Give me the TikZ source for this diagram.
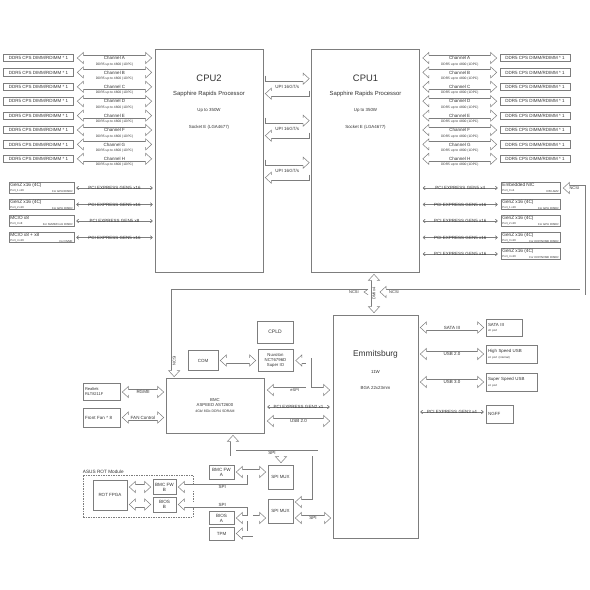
\documentclass[tikz,border=0pt]{standalone}
\usepackage{fontspec}
\setmainfont{Liberation Sans}
\usetikzlibrary{positioning, arrows.meta, calc}
\definecolor{ln}{RGB}{125,125,125}
\definecolor{tx}{RGB}{50,50,50}
\newcommand{\hbus}[4]{%
  \draw[bus, shorten <=6pt, shorten >=6pt] #2 -- node[buslbl] (#1) {#4} #3;
  \pic at #2 {hL}; \pic at #3 {hR};}
\newcommand{\tbus}[4]{%
  \draw[thinbus, yshift=-3.7pt] #2 -- #3;
  \draw[thinbus, yshift=3.7pt] #2 -- #3;
  \path #2 -- node[buslbl] (#1) {#4} #3;}
\newcommand{\pbox}[6]{%
  \node[pcie, minimum width=#2] (#1) at #3 {};
  \node[ttl, anchor=north west] (#1t) at ($(#1.north west)+(1.5,0.8)$) {#4};
  \node[sub, anchor=south west] (#1p) at ($(#1.south west)+(1.5,-0.8)$) {#5};
  \node[sub, anchor=south east] (#1u) at ($(#1.south east)+(-1.5,-0.8)$) {#6};}
\tikzset{
  hL/.pic={\fill[white] (6,-5.5) -- (0,0) -- (6,5.5) -- cycle;
    \draw[ln, line width=0.5pt] (6,-2.75) -- (6,-5.5) -- (0,0) -- (6,5.5) -- (6,2.75);},
  hR/.pic={\fill[white] (-6,-5.5) -- (0,0) -- (-6,5.5) -- cycle;
    \draw[ln, line width=0.5pt] (-6,-2.75) -- (-6,-5.5) -- (0,0) -- (-6,5.5) -- (-6,2.75);},
  hU/.pic={\fill[white] (-5.5,6) -- (0,0) -- (5.5,6) -- cycle;
    \draw[ln, line width=0.5pt] (-2.75,6) -- (-5.5,6) -- (0,0) -- (5.5,6) -- (2.75,6);},
  hD/.pic={\fill[white] (-5.5,-6) -- (0,0) -- (5.5,-6) -- cycle;
    \draw[ln, line width=0.5pt] (-2.75,-6) -- (-5.5,-6) -- (0,0) -- (5.5,-6) -- (2.75,-6);},
  tail/.pic={\draw[ln, line width=0.5pt] (0,-3) -- (0,3);},
  notch/.pic={\draw[ln, line width=0.5pt] (0,-2.75) -- (-4,0) -- (0,2.75);},
  blk/.style={draw=ln, line width=0.6pt, text=tx, inner sep=1pt,
    font=\fontsize{4.5}{5.4}\selectfont},
  cpu/.style={blk, minimum width=108, minimum height=223},
  dimm/.style={blk, minimum width=70, minimum height=7.5},
  pcie/.style={blk, minimum height=10.5},
  bus/.style={draw=ln, double=white, double distance=5pt, line width=0.5pt},
  thinbus/.style={draw=ln, line width=0.45pt,
    {Straight Barb[length=2pt,width=3.5pt]}-{Straight Barb[length=2pt,width=3.5pt]}},
  buslbl/.style={text=tx, inner sep=0pt, font=\fontsize{4.5}{5.4}\selectfont},
  ddr/.style={text=tx, inner sep=0pt, font=\fontsize{3.3}{4}\selectfont},
  ttl/.style={text=tx, inner sep=0pt, font=\fontsize{4.7}{5.6}\selectfont},
  sub/.style={text=tx, inner sep=0pt, font=\fontsize{2.8}{3.4}\selectfont},
  fA/.style={text=tx, inner sep=0pt, font=\fontsize{9.4}{11}\selectfont},
  fS/.style={text=tx, inner sep=0pt, font=\fontsize{5.9}{7}\selectfont},
  fN/.style={text=tx, inner sep=0pt, font=\fontsize{4.4}{5.3}\selectfont},
}
\begin{document}
\begin{tikzpicture}[x=1pt, y=-1pt, line join=miter]
  \useasboundingbox (0,0) rectangle (590,590);

  % processors
  \node[cpu] (cpu2) at (209,160.5) {};
  \node[cpu] (cpu1) at (365.5,160.5) {};
  \node[fA] (c2a) at ($(cpu2.north)+(0,30)$) {CPU2};
  \node[fS] (c2b) at ($(cpu2.north)+(0,45)$) {Sapphire Rapids Processor};
  \node[fN] (c2c) at ($(cpu2.north)+(0,62)$) {Up to 350W};
  \node[fN] (c2d) at ($(cpu2.north)+(0,79)$) {Socket E (LGA4677)};
  \node[fA] (c1a) at ($(cpu1.north)+(0,30)$) {CPU1};
  \node[fS] (c1b) at ($(cpu1.north)+(0,45)$) {Sapphire Rapids Processor};
  \node[fN] (c1c) at ($(cpu1.north)+(0,62)$) {Up to 350W};
  \node[fN] (c1d) at ($(cpu1.north)+(0,79)$) {Socket E (LGA4677)};

  % memory channels
  \foreach \c [count=\i from 0] in {A,B,C,D,E,F,G,H}{
    \node[dimm] (dl\c) at (38.5,58+14.4*\i) {DDR5 CPS DIMM/RDIMM * 1};
    \node[dimm] (dr\c) at (535,58+14.4*\i) {DDR5 CPS DIMM/RDIMM * 1};
    \hbus{chl\c}{($(dl\c.east)+(3.5,0)$)}{($(cpu2.west |- dl\c)+(-3,0)$)}{Channel \c}
    \hbus{chr\c}{($(cpu1.east |- dr\c)+(3,0)$)}{($(dr\c.west)+(-3,0)$)}{Channel \c}
    \node[ddr] (ddl\c) at ($(chl\c)+(0,6.3)$) {DDR5 up to 4800 (1DPC)};
    \node[ddr] (ddr\c) at ($(chr\c)+(0,6.3)$) {DDR5 up to 4800 (1DPC)};
  }

  % UPI links
  \foreach \k/\dy in {1/30,2/72,3/114}{
    \draw[bus, shorten >=6pt] ($(cpu2.north east)+(2,\dy)$) -- ($(cpu1.north west)+(-2,\dy)$);
    \pic at ($(cpu2.north east)+(2,\dy)$) {tail};
    \pic at ($(cpu1.north west)+(-2,\dy)$) {hR};
    \draw[bus, shorten <=6pt] ($(cpu2.north east)+(2,\dy+15)$) -- ($(cpu1.north west)+(-2,\dy+15)$);
    \pic at ($(cpu2.north east)+(2,\dy+15)$) {hL};
    \pic at ($(cpu1.north west)+(-2,\dy+15)$) {tail};
    \node[buslbl] (upi\k) at ($(cpu2.north east)!0.5!(cpu1.north west)+(0,\dy+8)$) {UPI 16GT/s};
  }

  % CPU2 PCIe
  \pbox{pl1}{65}{(41.5,188)}{GenZ x16 (4C)}{Port\_1 x16}{For GPU/RISER}
  \pbox{pl2}{65}{(41.5,204.5)}{GenZ x16 (4C)}{Port\_2 x16}{For GPU RISER}
  \pbox{pl3}{65}{(41.5,221)}{MCIO x8}{Port\_3 x8}{For NVME/Front RISER}
  \pbox{pl4}{65}{(41.5,237.5)}{MCIO x8 + x8}{Port\_4 x16}{For NVME}
  \tbus{gl1}{($(pl1.east)+(2,0)$)}{($(cpu2.west |- pl1)+(-2,0)$)}{PCI EXPRESS GEN5 x16}
  \tbus{gl2}{($(pl2.east)+(2,0)$)}{($(cpu2.west |- pl2)+(-2,0)$)}{PCI EXPRESS GEN5 x16}
  \tbus{gl3}{($(pl3.east)+(2,0)$)}{($(cpu2.west |- pl3)+(-2,0)$)}{PCI EXPRESS GEN5 x8}
  \tbus{gl4}{($(pl4.east)+(2,0)$)}{($(cpu2.west |- pl4)+(-2,0)$)}{PCI EXPRESS GEN5 x16}

  % CPU1 PCIe
  \pbox{nic}{59}{(530.5,188)}{Embedded NIC}{Port\_0 x4}{I350-AM2}
  \pbox{pr1}{59}{(530.5,204.5)}{GenZ x16 (4C)}{Port\_1 x16}{For GPU RISER}
  \pbox{pr2}{59}{(530.5,221)}{GenZ x16 (4C)}{Port\_2 x16}{For GPU RISER}
  \pbox{pr3}{59}{(530.5,237.5)}{GenZ x16 (4C)}{Port\_3 x16}{For OCP/NVME RISER}
  \pbox{pr4}{59}{(530.5,254)}{GenZ x16 (4C)}{Port\_4 x16}{For OCP/NVME RISER}
  \tbus{gr0}{($(cpu1.east |- nic)+(3,0)$)}{($(nic.west)+(-3,0)$)}{PCI EXPRESS GEN5 x4}
  \tbus{gr1}{($(cpu1.east |- pr1)+(3,0)$)}{($(pr1.west)+(-3,0)$)}{PCI EXPRESS GEN5 x16}
  \tbus{gr2}{($(cpu1.east |- pr2)+(3,0)$)}{($(pr2.west)+(-3,0)$)}{PCI EXPRESS GEN5 x16}
  \tbus{gr3}{($(cpu1.east |- pr3)+(3,0)$)}{($(pr3.west)+(-3,0)$)}{PCI EXPRESS GEN5 x16}
  \tbus{gr4}{($(cpu1.east |- pr4)+(3,0)$)}{($(pr4.west)+(-3,0)$)}{PCI EXPRESS GEN5 x16}

  % PCH and BMC side
  \node[blk, minimum width=85, minimum height=223] (em) at (375.5,426.5) {};
  \node[text=tx, inner sep=0pt, font=\fontsize{8.4}{10}\selectfont] (ema) at ($(em.north)+(0,40)$) {Emmitsburg};
  \node[fN] (emb) at ($(em.north)+(0,57)$) {11W};
  \node[fN] (emc) at ($(em.north)+(0,73)$) {BGA 22x23mm};

  \node[blk, minimum width=98, minimum height=55, align=center,
    font=\fontsize{4.3}{5.6}\selectfont] (bmc) at (215,405.5)
    {BMC\\ASPEED AST2600\\{\fontsize{3.5}{5}\selectfont 4Gb/ 8Gb DDR4 SDRAM}};
  \node[blk, minimum width=36, minimum height=22, font=\fontsize{5}{6}\selectfont] (cpld) at (275,332) {CPLD};
  \node[blk, minimum width=30, minimum height=20] (com) at (203,360.5) {COM};
  \node[blk, minimum width=35, minimum height=22, align=center,
    font=\fontsize{4.3}{5.3}\selectfont] (sio) at (275.5,360.5) {Nuvoton\\NCT6796D\\Super IO};
  \node[blk, minimum width=37, minimum height=17, text width=33, align=left,
    font=\fontsize{4}{5}\selectfont] (rtk) at (101.5,392) {Realtek\\RLT8211F};
  \node[blk, minimum width=37, minimum height=19, text width=33, align=left] (fan) at (101.5,417.5) {Front Fan * 8};

  \hbus{lrg}{($(rtk.east)+(2,0)$)}{($(bmc.west |- rtk)+(-2,0)$)}{RGMII}
  \hbus{lfc}{($(fan.east)+(2,0)$)}{($(bmc.west |- fan)+(-2,0)$)}{FAN Control}
  \hbus{lcm}{($(com.east)+(2,0)$)}{($(sio.west)+(-2,0)$)}{}

  % eSPI with Super IO branch
  \coordinate (eL) at ($(bmc.east)+(3,-15.5)$);
  \coordinate (eR) at ($(em.west |- eL)+(-3,0)$);
  \coordinate (eN) at ($(sio.east)+(2.5,0)$);
  \draw[bus] ($(eL)+(6,0)$) -- ($(eR)+(-6,0)$)
    ($(eN)+(6,0)$) -| ($(eL)!0.667!(eR)$);
  \pic at (eL) {hL}; \pic at (eR) {hR}; \pic at (eN) {hL};
  \node[buslbl, font=\fontsize{4}{5}\selectfont] (lsp) at ($(eL)!0.44!(eR)$) {eSPI};
  \tbus{lg2}{($(bmc.east)+(3,1.5)$)}{($(em.west |- bmc.east)+(-3,1.5)$)}{PCI EXPRESS GEN2 x1}
  \hbus{lub}{($(bmc.east)+(3,15.5)$)}{($(em.west |- bmc.east)+(-3,15.5)$)}{USB 2.0}

  % DMI and NCSI
  \draw[bus, shorten <=6pt, shorten >=6pt] ($(cpu1.south)+(8.5,2)$) -- node[buslbl, rotate=90, font=\fontsize{4}{5}\selectfont] (ldmi) {DMI x4} ($(em.north)+(-1.5,-2)$);
  \pic at ($(cpu1.south)+(8.5,2)$) {hU};
  \pic at ($(em.north)+(-1.5,-2)$) {hD};
  \coordinate (ncL) at (368,292);
  \coordinate (ncR) at (380,292);
  \draw[bus] (ncL) -| ($(bmc.north west)+(8.5,-7)$);
  \pic at (ncL) {notch};
  \pic at ($(bmc.north west)+(8.5,-1)$) {hD};
  \draw[bus] ($(ncR)+(6,0)$) -| ($(nic.east)+(22.5,0)$) -- ($(nic.east)+(9,0)$);
  \pic at (ncR) {hL};
  \pic at ($(nic.east)+(3,0)$) {hL};
  \node[buslbl, font=\fontsize{4}{5}\selectfont] (lnc1) at ($(ncL)+(-14,0)$) {NCSI};
  \node[buslbl, font=\fontsize{4}{5}\selectfont, rotate=90] (lnc2) at ($(bmc.north west)+(8.5,-17)$) {NCSI};
  \node[buslbl, font=\fontsize{4}{5}\selectfont] (lnc3) at ($(ncR)+(14,0)$) {NCSI};
  \node[buslbl, font=\fontsize{4}{5}\selectfont] (lnc4) at ($(nic.east)+(14,0)$) {NCSI};

  % PCH peripherals
  \node[blk, minimum width=36, minimum height=17, text width=32, align=left,
    font=\fontsize{4.4}{5.4}\selectfont] (sata) at (504,327.5) {SATA III\\{\fontsize{2.8}{3.6}\selectfont x8 port}};
  \node[blk, minimum width=51, minimum height=18, text width=47, align=left,
    font=\fontsize{4.4}{5.4}\selectfont] (hsu) at (511.5,354) {High Speed USB\\{\fontsize{2.8}{3.6}\selectfont x4 port (internal)}};
  \node[blk, minimum width=51, minimum height=18, text width=47, align=left,
    font=\fontsize{4.4}{5.4}\selectfont] (ssu) at (511.5,382) {Super Speed USB\\{\fontsize{2.8}{3.6}\selectfont x4 port}};
  \node[blk, minimum width=27, minimum height=18, text width=23, align=left] (ngff) at (499.5,414) {NGFF};
  \hbus{lsa}{($(em.east |- sata)+(2,0)$)}{($(sata.west)+(-2,0)$)}{SATA III}
  \hbus{lu2}{($(em.east |- hsu)+(2,0)$)}{($(hsu.west)+(-2,0)$)}{USB 2.0}
  \hbus{lu3}{($(em.east |- ssu)+(2,0)$)}{($(ssu.west)+(-2,0)$)}{USB 3.0}
  \tbus{lg3}{($(em.east |- ngff)+(2,-2)$)}{($(ngff.west)+(-2,-2)$)}{PCI EXPRESS GEN3 x4}

  % flash and root of trust
  \node[blk, minimum width=25, minimum height=24] (mux1) at (280.5,477) {SPI MUX};
  \node[blk, minimum width=25, minimum height=24] (mux2) at (280.5,511) {SPI MUX};
  \node[blk, minimum width=25, minimum height=14, align=center,
    font=\fontsize{4.6}{5.2}\selectfont] (fwa) at (221.5,472) {BMC FW\\A};
  \node[blk, minimum width=25, minimum height=13, align=center,
    font=\fontsize{4.6}{5.2}\selectfont] (bia) at (221.5,518) {BIOS\\A};
  \node[blk, minimum width=25, minimum height=13] (tpm) at (221.5,533.5) {TPM};
  \node[draw=ln, line width=0.5pt, dash pattern=on 1.5pt off 1pt, minimum width=110,
    minimum height=42] (rotm) at (138,496) {};
  \node[ttl, anchor=south west] (rotl) at ($(rotm.north west)+(0,-1.5)$) {ASUS ROT Module};
  \node[blk, minimum width=34, minimum height=30] (rot) at (110,495) {ROT FPGA};
  \node[blk, minimum width=23, minimum height=15, align=center,
    font=\fontsize{4.6}{5.2}\selectfont] (fwb) at (164.5,487) {BMC FW\\B};
  \node[blk, minimum width=23, minimum height=15, align=center,
    font=\fontsize{4.6}{5.2}\selectfont] (bib) at (164.5,504.5) {BIOS\\B};
  \hbus{lr1}{($(rot.east |- fwb)+(2,0)$)}{($(fwb.west)+(-2,0)$)}{}
  \hbus{lr2}{($(rot.east |- bib)+(2,0)$)}{($(bib.west)+(-2,0)$)}{}

  % BMC SPI to both muxes
  \coordinate (bS) at ($(bmc.south)+(18,2)$);
  \coordinate (m1N) at ($(mux1.north)+(0.5,-2)$);
  \coordinate (m2E) at ($(mux2.east)+(2,-9)$);
  \draw[bus] ($(bS)+(0,6)$) |- ($(m2E)+(20,-49)$) |- ($(m2E)+(6,0)$)
    ($(m1N)+(0,-10)$) -- ($(m1N)+(0,-6)$);
  \pic at (bS) {hU}; \pic at (m1N) {hD}; \pic at (m2E) {hL};
  \node[buslbl] (ls1) at ($(m1N)+(-9,-10)$) {SPI};

  % BMC firmware flashes
  \draw[bus] ($(fwa.east)+(8,0)$) -- ($(mux1.west |- fwa)+(-8,0)$)
    ($(fwb.east)+(8,0)$) -| ($(fwa.east)+(16,0)$);
  \pic at ($(fwa.east)+(2,0)$) {hL};
  \pic at ($(mux1.west |- fwa)+(-2,0)$) {hR};
  \pic at ($(fwb.east)+(2,0)$) {hL};
  \node[buslbl] (ls2) at ($(fwb.east)+(46,0)$) {SPI};

  % BIOS flashes and TPM
  \draw[bus] ($(bia.east)+(8,0)$) -- ($(mux2.west |- bia)+(-8,0)$)
    ($(bib.east)+(8,0)$) -| ($(tpm.east)+(16,0)$) -- ($(tpm.east)+(8,0)$);
  \pic at ($(bia.east)+(2,0)$) {hL};
  \pic at ($(mux2.west |- bia)+(-2,0)$) {hR};
  \pic at ($(bib.east)+(2,0)$) {hL};
  \pic at ($(tpm.east)+(2,0)$) {hL};
  \node[buslbl] (ls3) at ($(bib.east)+(46,0)$) {SPI};

  \hbus{ls4}{($(mux2.east)+(2,7)$)}{($(em.west |- mux2.east)+(-2,7)$)}{SPI}
\end{tikzpicture}
\end{document}
